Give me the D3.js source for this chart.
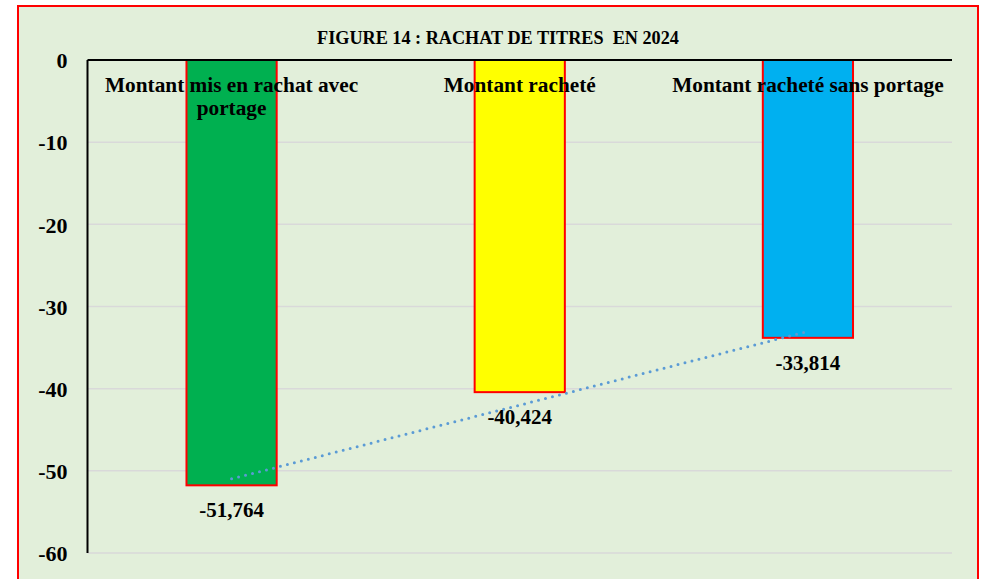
<!DOCTYPE html>
<html><head><meta charset="utf-8">
<script src="https://cdn.jsdelivr.net/npm/d3@7/dist/d3.min.js"></script>
<style>html,body{margin:0;padding:0;background:#fff;overflow:hidden}</style>
</head><body>
<svg id="c" width="983" height="579"></svg>
<script>
const title = "FIGURE 14 : RACHAT DE TITRES  EN 2024";
const categories = ["Montant mis en rachat avec portage", "Montant racheté", "Montant racheté sans portage"];
const categoryLines = [["Montant mis en rachat avec", "portage"], ["Montant racheté"], ["Montant racheté sans portage"]];
const values = [-51.764, -40.424, -33.814];
const valueLabels = ["-51,764", "-40,424", "-33,814"];
const barColors = ["#00b050", "#ffff00", "#00b0f0"];
const yTicks = [0, -10, -20, -30, -40, -50, -60];

(function () {
const svg = d3.select("#c");
const font = "'Liberation Serif','Times New Roman',serif";

svg.append("rect").attr("x", 18).attr("y", 6).attr("width", 960).attr("height", 600)
  .attr("fill", "#e2efda").attr("stroke", "#ff0000").attr("stroke-width", 2);

const pLeft = 87.5, pRight = 952, pTop = 60, pBottom = 553;
const x = d3.scaleBand().domain(categories).range([pLeft, pRight]).paddingInner(0.687).paddingOuter(0.3435);
const y = d3.scaleLinear().domain([0, -60]).range([pTop, pBottom]);

svg.append("text").attr("x", 498).attr("y", 44).attr("text-anchor", "middle")
  .attr("font-family", font).attr("font-weight", "bold").attr("font-size", 18.2)
  .attr("fill", "#000").style("white-space", "pre").text(title);

// gridlines
svg.append("g").selectAll("line").data(yTicks.filter(t => t !== 0)).join("line")
  .attr("x1", pLeft).attr("x2", pRight).attr("y1", d => y(d)).attr("y2", d => y(d))
  .attr("stroke", "#d9d9d9").attr("stroke-width", 1.5);

// y axis labels
const yAxis = d3.axisLeft(y).tickValues(yTicks).tickSize(0).tickPadding(20).tickFormat(d => String(d));
const ga = svg.append("g").attr("transform", `translate(${pLeft},0)`).call(yAxis);
ga.select(".domain").remove();
ga.selectAll("text").attr("font-family", font).attr("font-weight", "bold").attr("font-size", 22)
  .attr("fill", "#000").attr("dy", "0.35em");

// bars
svg.append("g").selectAll("rect").data(values).join("rect")
  .attr("x", (d, i) => x(categories[i]))
  .attr("width", x.bandwidth())
  .attr("y", y(0))
  .attr("height", d => y(d) - y(0))
  .attr("fill", (d, i) => barColors[i])
  .attr("stroke", "#ff0000").attr("stroke-width", 2);

// axes lines
svg.append("line").attr("x1", pLeft).attr("x2", pRight).attr("y1", y(0)).attr("y2", y(0))
  .attr("stroke", "#000").attr("stroke-width", 2);
svg.append("line").attr("x1", pLeft).attr("x2", pLeft).attr("y1", y(0)).attr("y2", y(-60))
  .attr("stroke", "#000").attr("stroke-width", 2);

// category labels
const cl = svg.append("g");
categoryLines.forEach((lines, i) => {
  const cx = x(categories[i]) + x.bandwidth() / 2;
  const t = cl.append("text").attr("text-anchor", "middle").attr("font-family", font)
    .attr("font-weight", "bold").attr("font-size", 21.3).attr("fill", "#000");
  lines.forEach((ln, j) => t.append("tspan").attr("x", cx).attr("y", 92 + j * 23).text(ln));
});

// linear trendline
const xs = values.map((d, i) => i + 1);
const mx = d3.mean(xs), my = d3.mean(values);
const slope = d3.sum(xs.map((xi, i) => (xi - mx) * (values[i] - my))) / d3.sum(xs.map(xi => (xi - mx) ** 2));
const icpt = my - slope * mx;
const cxOf = i => x(categories[i]) + x.bandwidth() / 2;
const trend = [0, values.length - 1].map(i => [cxOf(i), y(icpt + slope * (i + 1))]);
svg.append("path").attr("d", d3.line()(trend)).attr("fill", "none")
  .attr("stroke", "#5b9bd5").attr("stroke-width", 3).attr("stroke-linecap", "round")
  .attr("stroke-dasharray", "0 7.2");

// value labels
svg.append("g").selectAll("text").data(values).join("text")
  .attr("x", (d, i) => cxOf(i)).attr("y", d => y(d) + 32)
  .attr("text-anchor", "middle").attr("font-family", font).attr("font-weight", "bold")
  .attr("font-size", 21).attr("fill", "#000").text((d, i) => valueLabels[i]);
})();
</script>
</body></html>
